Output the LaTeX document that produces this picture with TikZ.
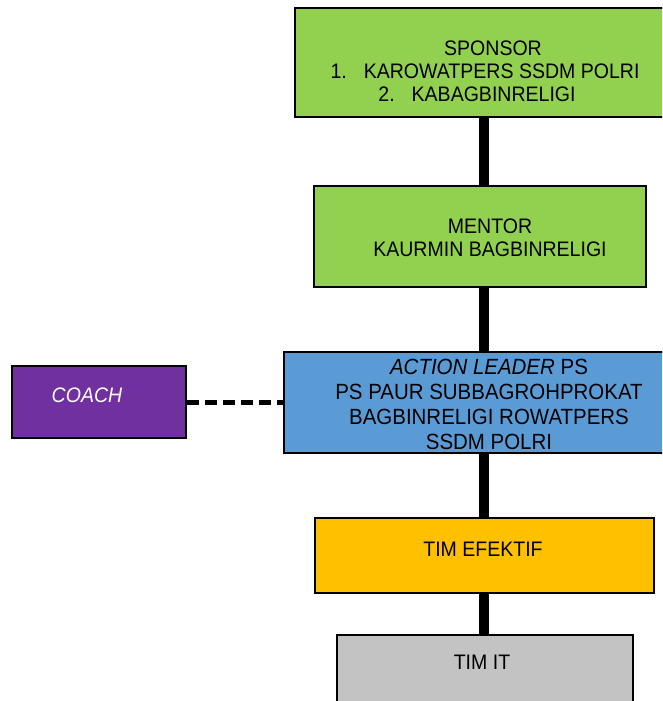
\documentclass[tikz,border=0pt]{standalone}
\usepackage{fontspec}
\setmainfont[FakeStretch=0.93]{Liberation Sans}
\definecolor{sponsorgreen}{HTML}{92D050}
\definecolor{leaderblue}{HTML}{5B9BD5}
\definecolor{coachpurple}{HTML}{7030A0}
\definecolor{timorange}{HTML}{FFC000}
\definecolor{timgray}{HTML}{C3C3C3}
\tikzset{
  box/.style={draw=black, line width=2pt, fill=#1, rectangle, inner sep=0pt},
  boxtext/.style={align=center, inner sep=0pt, font=\fontsize{21}{23}\selectfont},
  link/.style={line width=10pt},
  coachlink/.style={line width=5pt, dash pattern=on 12pt off 6pt}
}
\begin{document}
\begin{tikzpicture}[x=1pt,y=-1pt]
      \useasboundingbox (0,0) rectangle (662,701);
      \clip (0,0) rectangle (662,701);
      \fill[white] (0,0) rectangle (662,701);
      % boxes
      \node[box=sponsorgreen, minimum width=405pt, minimum height=109pt] (sponsor) at (497.5,62.5) {};
      \node[box=sponsorgreen, minimum width=332pt, minimum height=101pt] (mentor) at (480,236.5) {};
      \node[box=leaderblue, minimum width=416pt, minimum height=101pt] (leader) at (492,402.5) {};
      \node[box=coachpurple, minimum width=174pt, minimum height=72pt] (coach) at (99,402) {};
      \node[box=timorange, minimum width=339pt, minimum height=75pt] (efektif) at (484.5,555.5) {};
      \node[box=timgray, minimum width=296pt, minimum height=90pt] (timit) at (485,680) {};
      % texts
      \node[boxtext] (sponsor-txt) at (485,71)
        {\hspace*{16pt}SPONSOR\\1.\hspace{17pt}KAROWATPERS SSDM POLRI\hspace*{16pt}\\2.\hspace{17pt}KABAGBINRELIGI\hspace*{16pt}};
      \node[boxtext] (mentor-txt) at (490,238) {MENTOR\\KAURMIN BAGBINRELIGI};
      \node[boxtext, font=\fontsize{22}{25}\selectfont] (leader-txt) at (489,404)
        {\textit{ACTION LEADER} PS\\PS PAUR SUBBAGROHPROKAT\\BAGBINRELIGI ROWATPERS\\SSDM POLRI};
      \node[boxtext, text=white, font=\fontsize{21}{23}\selectfont\itshape] (coach-txt) at (87,395.5) {COACH};
      \node[boxtext] (efektif-txt) at (483,549) {TIM EFEKTIF};
      \node[boxtext] (timit-txt) at (482,662) {TIM IT};
      % connectors
      \coordinate (spine) at (484,0);
      \begin{scope}[link]
        \draw (sponsor.south -| spine) -- (mentor.north -| spine);
        \draw (mentor.south -| spine) -- (leader.north -| spine);
        \draw (leader.south -| spine) -- (efektif.north -| spine);
        \draw (efektif.south -| spine) -- (timit.north -| spine);
      \end{scope}
      \draw[coachlink] (coach.east) -- (coach.east -| leader.west);
    \end{tikzpicture}
\end{document}
